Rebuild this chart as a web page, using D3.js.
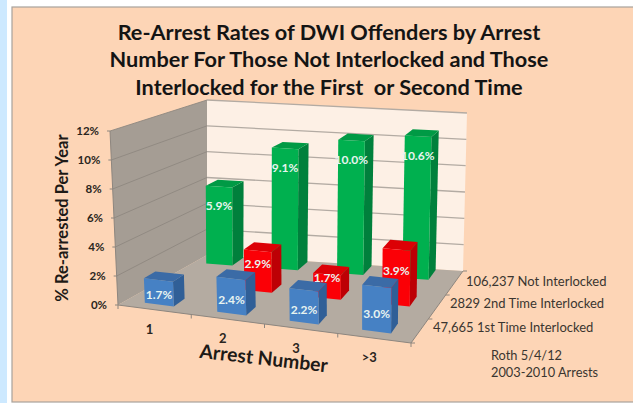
<!DOCTYPE html>
<html>
<head>
<meta charset="utf-8">
<script src="https://cdn.jsdelivr.net/npm/d3@7"></script>
<style>
html,body{margin:0;padding:0;background:#fff}
svg{display:block;font-family:Lato,"Open Sans",sans-serif}
</style>
</head>
<body>
<svg id="chart" width="633" height="403"></svg>
<script>
// Re-arrest rates, percent per year
const arrestNumbers = ["1", "2", "3", ">3"];
const groups = ["47,665 1st Time Interlocked", "2829 2nd Time Interlocked", "106,237 Not Interlocked"];
const firstTime = [1.7, 2.4, 2.2, 3.0];
const secondTime = [null, 2.9, 1.7, 3.9];
const notInterlocked = [5.9, 9.1, 10.0, 10.6];
const yTicks = [0, 2, 4, 6, 8, 10, 12];
const titleLines = [
  "Re-Arrest Rates of DWI Offenders by Arrest",
  "Number For Those Not Interlocked and Those",
  "Interlocked for the First  or Second Time"
];
const noteLines = ["Roth 5/4/12", "2003-2010 Arrests"];

const seriesValues = [firstTime, secondTime, notInterlocked];

const svg = d3.select("#chart");

// Bilinear map of the unit square onto a screen quadrilateral
function quadMap(fl, fr, br, bl) {
  return (u, v) => {
    const front = [fl[0] + (fr[0] - fl[0]) * u, fl[1] + (fr[1] - fl[1]) * u];
    const back = [bl[0] + (br[0] - bl[0]) * u, bl[1] + (br[1] - bl[1]) * u];
    return [front[0] + (back[0] - front[0]) * v, front[1] + (back[1] - front[1]) * v];
  };
}

const floorMap = quadMap([118, 305], [411, 343], [463, 271], [207, 255]);
const roofMap = quadMap([110, 131], [413, 158], [467, 113], [207, 100]);
const zScale = d3.scaleLinear().domain([0, 12]).range([0, 1]);

function project(u, v, z) {
  const a = floorMap(u, v), b = roofMap(u, v), t = zScale(z);
  return [a[0] + (b[0] - a[0]) * t, a[1] + (b[1] - a[1]) * t];
}
// Bars lean slightly left of the floor grid as they recede
const barPoint = (u, v, z) => project(u - 0.008 - 0.022 * v, v, z);
const poly = pts => "M" + pts.map(p => p.join(",")).join("L") + "Z";

const uScale = d3.scaleBand().domain(d3.range(4)).range([0, 1]).paddingInner(0.6).paddingOuter(0.3);
const vScale = d3.scaleBand().domain(d3.range(3)).range([0.09, 0.99]).paddingInner(0.63).paddingOuter(0);

// Page background and panel
svg.append("rect").attr("width", 7).attr("height", 403).attr("fill", "#cde9ff");
svg.append("rect").attr("x", 12).attr("y", 7).attr("width", 625).attr("height", 395)
  .attr("fill", "#fdd5b6").attr("stroke", "#a8a29c").attr("stroke-width", 1.2);

// Title
svg.append("g").selectAll("text").data(titleLines).join("text")
  .attr("x", 329).attr("y", (d, i) => [40, 67, 95][i])
  .attr("text-anchor", "middle").attr("font-weight", 700).attr("font-size", 21.7)
  .attr("fill", "#141414").style("white-space", "pre").text(d => d);

// Walls and floor
const walls = svg.append("g");
walls.append("path").attr("fill", "#a59d94").attr("d", poly([project(0,0,0), project(0,1,0), project(0,1,12), project(0,0,12)]));
walls.append("path").attr("fill", "#fdf0e5").attr("d", poly([project(0,1,0), project(1,1,0), project(1,1,12), project(0,1,12)]));
walls.append("path").attr("fill", "#b4aba1").attr("d", poly([project(0,0,0), project(1,0,0), project(1,1,0), project(0,1,0)]));

// Gridlines across both walls
yTicks.slice(1).forEach(t => {
  const line = d3.line();
  walls.append("path").attr("fill", "none").attr("stroke", "#8f8880").attr("stroke-width", 0.9)
    .attr("d", line([project(0,0,t), project(0,1,t)]));
  walls.append("path").attr("fill", "none").attr("stroke", "#b3aba3").attr("stroke-width", 1.3)
    .attr("d", line([project(0,1,t), project(1,1,t)]));
});

// Axis lines and tick marks
const axes = svg.append("g").attr("stroke", "#8d867f").attr("stroke-width", 1).attr("fill", "none");
axes.append("path").attr("d", d3.line()([project(0,0,0), project(1,0,0)]));
axes.append("path").attr("d", d3.line()([project(1,0,0), project(1,1,0)]));
axes.append("path").attr("d", d3.line()([project(0,0,0), project(0,0,12)]));
yTicks.forEach(t => {
  const p = project(0,0,t);
  axes.append("path").attr("d", d3.line()([p, [p[0] - 3, p[1]]]));
});
d3.range(5).forEach(i => {
  const p = project(i / 4, 0, 0);
  axes.append("path").attr("d", d3.line()([p, [p[0], p[1] + 4]]));
});
d3.range(4).forEach(i => {
  const p = project(1, i / 3, 0);
  axes.append("path").attr("d", d3.line()([p, [p[0] + 4, p[1]]]));
});

// Bars, drawn back row first so nearer rows overlap farther ones
const palette = [
  {front: "#4681c4", top: "#3b6ba6", side: "#305f97"},
  {front: "#fb0006", top: "#dc0005", side: "#bd0005"},
  {front: "#00b04f", top: "#009a45", side: "#00803c"}
];
// How far below the bar top each value label sits, in value units
const labelDrop = [v => v * 0.6, v => (v - 1.2) * 0.55, () => 1.45];
const bars = svg.append("g");
const valueLabels = svg.append("g");
[2, 1, 0].forEach(s => {
  const v0 = vScale(s), v1 = v0 + vScale.bandwidth();
  seriesValues[s].forEach((val, c) => {
    if (val === null) return;
    const u0 = uScale(c), u1 = u0 + uScale.bandwidth();
    const col = palette[s];
    const g = bars.append("g");
    g.append("path").attr("fill", col.side).attr("d", poly([barPoint(u1,v0,0), barPoint(u1,v1,0), barPoint(u1,v1,val), barPoint(u1,v0,val)]));
    g.append("path").attr("fill", col.top).attr("d", poly([barPoint(u0,v0,val), barPoint(u1,v0,val), barPoint(u1,v1,val), barPoint(u0,v1,val)]));
    g.append("path").attr("fill", col.front).attr("d", poly([barPoint(u0,v0,0), barPoint(u1,v0,0), barPoint(u1,v0,val), barPoint(u0,v0,val)]));
    const p = barPoint((u0 + u1) / 2, v0, val - labelDrop[s](val));
    valueLabels.append("text").attr("x", p[0]).attr("y", p[1] + 4).attr("text-anchor", "middle")
      .attr("font-size", 12).attr("font-weight", 700).attr("fill", "#e8f4f0").text(val.toFixed(1) + "%");
  });
});

// Value axis labels
svg.append("g").selectAll("text").data(yTicks).join("text")
  .attr("x", d => project(0,0,d)[0] - 11).attr("y", d => project(0,0,d)[1] + 4)
  .attr("text-anchor", "end").attr("font-size", 11.5).attr("font-weight", 700).attr("fill", "#2a2520")
  .text(d => d + "%");
svg.append("text").attr("transform", "translate(68,218) rotate(-90)").attr("text-anchor", "middle")
  .attr("font-size", 16.5).attr("font-weight", 700).attr("fill", "#1e1a16").text("% Re-arrested Per Year");

// Category labels sit below the front edge of the floor
svg.append("g").selectAll("text").data(arrestNumbers).join("text")
  .attr("x", (d, i) => project(uScale(i) + uScale.bandwidth() / 2, 0, 0)[0] - 5)
  .attr("y", (d, i) => project(uScale(i) + uScale.bandwidth() / 2, 0, 0)[1] + 24)
  .attr("text-anchor", "middle").attr("font-size", 13).attr("font-weight", 700).attr("fill", "#2a2520")
  .text(d => d);
svg.append("text").attr("transform", "translate(263,365) rotate(6.5)").attr("text-anchor", "middle")
  .attr("font-size", 19.4).attr("font-weight", 700).attr("fill", "#1e1a16").text("Arrest Number");

// Series labels beside the right edge of the floor
svg.append("g").selectAll("text").data(groups).join("text")
  .attr("x", (d, i) => [433, 450, 466][i]).attr("y", (d, i) => [332, 308, 286][i])
  .attr("font-size", 13).attr("fill", "#3a3530").text(d => d);

svg.append("g").selectAll("text").data(noteLines).join("text")
  .attr("x", 491).attr("y", (d, i) => [360, 377][i])
  .attr("font-size", 12.8).attr("fill", "#3a3530").text(d => d);
</script>
</body>
</html>
